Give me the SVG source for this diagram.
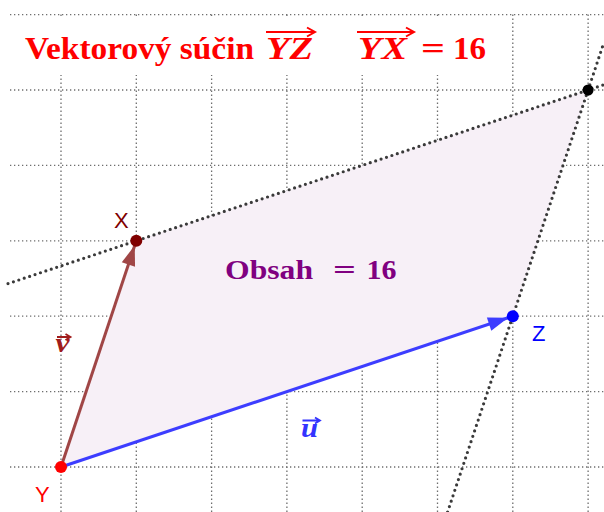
<svg xmlns="http://www.w3.org/2000/svg" width="604" height="512" viewBox="0 0 604 512">
<defs>
<style>
.grid line{stroke:#6e6e6e;stroke-width:1.3;stroke-dasharray:1.3 2.7;fill:none}
.dot{stroke:#3a3a3a;stroke-width:3.2;stroke-linecap:round;stroke-dasharray:0 5.7;fill:none}
.title{font-family:"Liberation Serif",serif;font-weight:bold;font-size:31px;fill:#ff0000}
.ti{font-style:italic}
.area{font-family:"Liberation Serif",serif;font-weight:bold;font-size:28px;fill:#800080}
.lab{font-family:"Liberation Sans",Arial,sans-serif;font-size:22px}
.vlab{font-family:"Liberation Serif",serif;font-weight:bold;font-style:italic;font-size:27px}
</style>
<marker id="arrV" markerWidth="20" markerHeight="14" refX="25" refY="7" orient="auto" markerUnits="userSpaceOnUse" overflow="visible"><path d="M0,0 L20,7 L0,14 z" fill="#a04646"/></marker>
<marker id="arrU" markerWidth="20" markerHeight="14" refX="25" refY="7" orient="auto" markerUnits="userSpaceOnUse" overflow="visible"><path d="M0,0 L20,7 L0,14 z" fill="#3d3dff"/></marker>
</defs>
<rect width="604" height="512" fill="#ffffff"/>
<g id="grid" class="grid">
<line x1="10" y1="14.6" x2="604" y2="14.6"/>
<line x1="10" y1="90" x2="604" y2="90"/>
<line x1="10" y1="165.4" x2="604" y2="165.4"/>
<line x1="10" y1="240.8" x2="604" y2="240.8"/>
<line x1="10" y1="316.2" x2="604" y2="316.2"/>
<line x1="10" y1="391.6" x2="604" y2="391.6"/>
<line x1="10" y1="467" x2="604" y2="467"/>
<line x1="61" y1="14.6" x2="61" y2="512"/>
<line x1="136.3" y1="14.6" x2="136.3" y2="512"/>
<line x1="211.6" y1="14.6" x2="211.6" y2="512"/>
<line x1="286.9" y1="14.6" x2="286.9" y2="512"/>
<line x1="362.2" y1="14.6" x2="362.2" y2="512"/>
<line x1="437.5" y1="14.6" x2="437.5" y2="512"/>
<line x1="512.8" y1="14.6" x2="512.8" y2="512"/>
<line x1="588.1" y1="14.6" x2="588.1" y2="512"/>
</g>
<rect x="10" y="17" width="490" height="58" fill="#ffffff"/>
<g id="parallelogram">
<polygon points="61,467 512.8,316.2 588.1,90 136.3,240.8" fill="#f7f0f7"/>
</g>
<g id="connectors">
<line class="dot" x1="8" y1="283.6" x2="604" y2="84.7"/>
<line class="dot" x1="447.6" y1="512" x2="604" y2="42.2"/>
<line x1="61" y1="467" x2="136.3" y2="240.8" stroke="#a04646" stroke-width="3" marker-end="url(#arrV)"/>
<line x1="61" y1="467" x2="512.8" y2="316.2" stroke="#3d3dff" stroke-width="3" marker-end="url(#arrU)"/>
</g>
<g id="title">
<text class="title" x="25" y="59" textLength="229" lengthAdjust="spacingAndGlyphs">Vektorový súčin</text>
<text class="title ti" x="266" y="59" textLength="47" lengthAdjust="spacingAndGlyphs">YZ</text>
<path d="M266,32 H314 M307,27.5 L315,32 L307,36.5" stroke="#ff0000" stroke-width="2" fill="none"/>
<text class="title ti" x="358" y="59" textLength="49" lengthAdjust="spacingAndGlyphs">YX</text>
<path d="M357,32 H413 M406,27.5 L414,32 L406,36.5" stroke="#ff0000" stroke-width="2" fill="none"/>
<text class="title" x="421" y="59" textLength="24" lengthAdjust="spacingAndGlyphs">=</text>
<text class="title" x="453" y="59" textLength="33" lengthAdjust="spacingAndGlyphs">16</text>
</g>
<g id="area-label">
<text class="area" x="225" y="279" textLength="88" lengthAdjust="spacingAndGlyphs">Obsah</text>
<text class="area" x="333" y="279" textLength="23" lengthAdjust="spacingAndGlyphs">=</text>
<text class="area" x="366.5" y="279" textLength="30" lengthAdjust="spacingAndGlyphs">16</text>
</g>
<g id="label-v">
<text class="vlab" x="55.5" y="352" fill="#a01c1c" textLength="14" lengthAdjust="spacingAndGlyphs">v</text>
<path d="M57,337 H70 M65.5,334 L70.5,337 L65.5,340" stroke="#a01c1c" stroke-width="1.8" fill="none"/>
</g>
<g id="label-u">
<text class="vlab" x="301" y="437" fill="#3333ff" textLength="17" lengthAdjust="spacingAndGlyphs">u</text>
<path d="M302.5,420.5 H319.5 M315,417.5 L320,420.5 L315,423.5" stroke="#3333ff" stroke-width="1.8" fill="none"/>
</g>
<g id="point-W">
<circle cx="588.1" cy="90" r="5.5" fill="#000000"/>
</g>
<g id="point-X">
<circle cx="136.3" cy="240.8" r="6" fill="#800000"/>
<text class="lab" x="114" y="228" fill="#800000">X</text>
</g>
<g id="point-Y">
<circle cx="61" cy="467" r="6" fill="#ff0000"/>
<text class="lab" x="35" y="502" fill="#ff0000">Y</text>
</g>
<g id="point-Z">
<circle cx="512.8" cy="316.2" r="6" fill="#0000ff"/>
<text class="lab" x="532" y="341" fill="#0000ff">Z</text>
</g>
</svg>
